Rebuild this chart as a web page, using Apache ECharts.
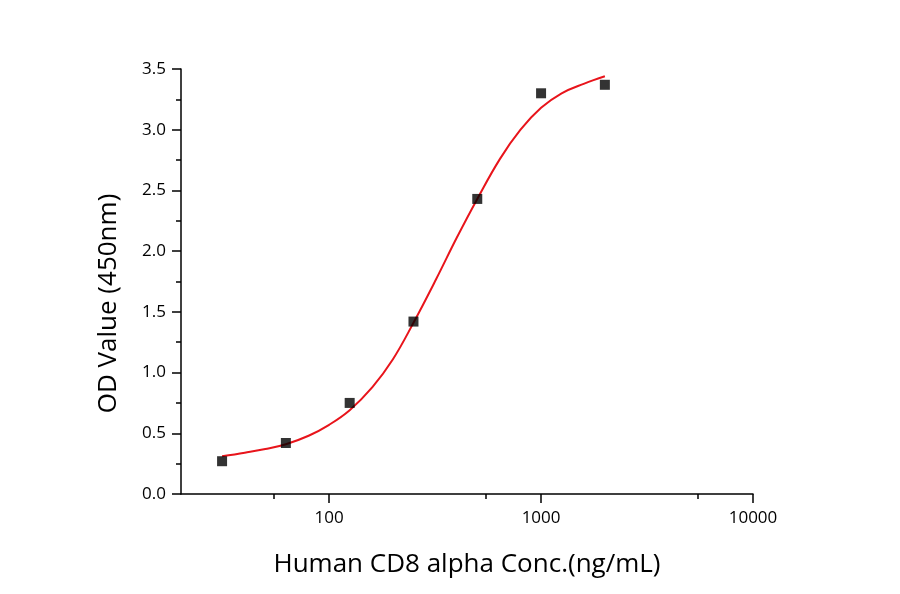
<!DOCTYPE html>
<html>
<head>
<meta charset="utf-8">
<script src="https://cdn.jsdelivr.net/npm/echarts@6/dist/echarts.min.js"></script>
<style>
  html, body { margin: 0; padding: 0; background: #fff; }
  #main { width: 900px; height: 594px; }
</style>
</head>
<body>
<div id="main"></div>
<script>
// measured standards (concentration, OD)
const concentrations = [31.25, 62.5, 125, 250, 500, 1000, 2000];
const odValues = [0.27, 0.42, 0.75, 1.42, 2.43, 3.30, 3.37];

// fitted curve
const curveX = [31.25, 40, 50, 62.5, 80, 100, 125, 160, 200, 250, 320, 400, 500, 640, 800, 1000, 1250, 1600, 2000];
const curveY = [0.31, 0.34, 0.37, 0.41, 0.48, 0.57, 0.69, 0.88, 1.11, 1.41, 1.77, 2.11, 2.43, 2.76, 3.00, 3.18, 3.30, 3.38, 3.44];

const xMajorTicks = [100, 1000, 10000];
const xMinorTicks = [55, 550, 5500];

const font = "'Open Sans', 'Noto Sans', sans-serif";

let myChart = echarts.init(document.getElementById("main"));

const baseX = {
	type: "log",
	min: 20,
	max: 10000,
	axisLine: { lineStyle: { color: "#000", width: 1.5 } },
	splitLine: { show: false },
};

let options = {
	animation: false,
	grid: { left: 181, right: 147, top: 69, bottom: 100 },
	xAxis: [
		Object.assign({}, baseX, {
			name: "Human CD8 alpha Conc.(ng/mL)",
			nameLocation: "middle",
			nameGap: 58,
			nameTextStyle: { fontFamily: font, fontSize: 26, color: "#000" },
			axisTick: { length: 9, lineStyle: { color: "#000", width: 1.5 }, customValues: xMajorTicks },
			axisLabel: {
				margin: 16,
				fontFamily: font,
				fontSize: 17,
				color: "#000",
				customValues: xMajorTicks,
				formatter: (v) => String(Math.round(v)),
			},
		}),
		Object.assign({}, baseX, {
			position: "bottom",
			axisLine: { show: false },
			axisTick: { length: 5, lineStyle: { color: "#000", width: 1.5 }, customValues: xMinorTicks },
			axisLabel: { show: false },
		}),
	],
	yAxis: {
		type: "value",
		min: 0,
		max: 3.5,
		interval: 0.5,
		name: "OD Value (450nm)",
		nameLocation: "middle",
		nameGap: 59,
		nameTextStyle: { fontFamily: font, fontSize: 26, color: "#000", padding: [0, 44, 0, 0] },
		axisLine: { show: true, lineStyle: { color: "#000", width: 1.5 } },
		axisTick: { show: true, length: 9, lineStyle: { color: "#000", width: 1.5 } },
		minorTick: { show: true, splitNumber: 2, length: 5, lineStyle: { color: "#000", width: 1.5 } },
		axisLabel: {
			margin: 15,
			fontFamily: font,
			fontSize: 17,
			color: "#000",
			formatter: (v) => v.toFixed(1),
		},
		splitLine: { show: false },
	},
	series: [
		{
			name: "Fit",
			type: "line",
			smooth: 0.4,
			showSymbol: false,
			lineStyle: { color: "#e8141b", width: 2 },
			data: curveX.map((x, i) => [x, curveY[i]]),
			z: 2,
		},
		{
			name: "OD",
			type: "scatter",
			symbol: "rect",
			symbolSize: 10,
			itemStyle: { color: "#000" },
			data: concentrations.map((x, i) => [x, odValues[i]]),
			z: 3,
		},
	],
};

myChart.setOption(options);
</script>
</body>
</html>
